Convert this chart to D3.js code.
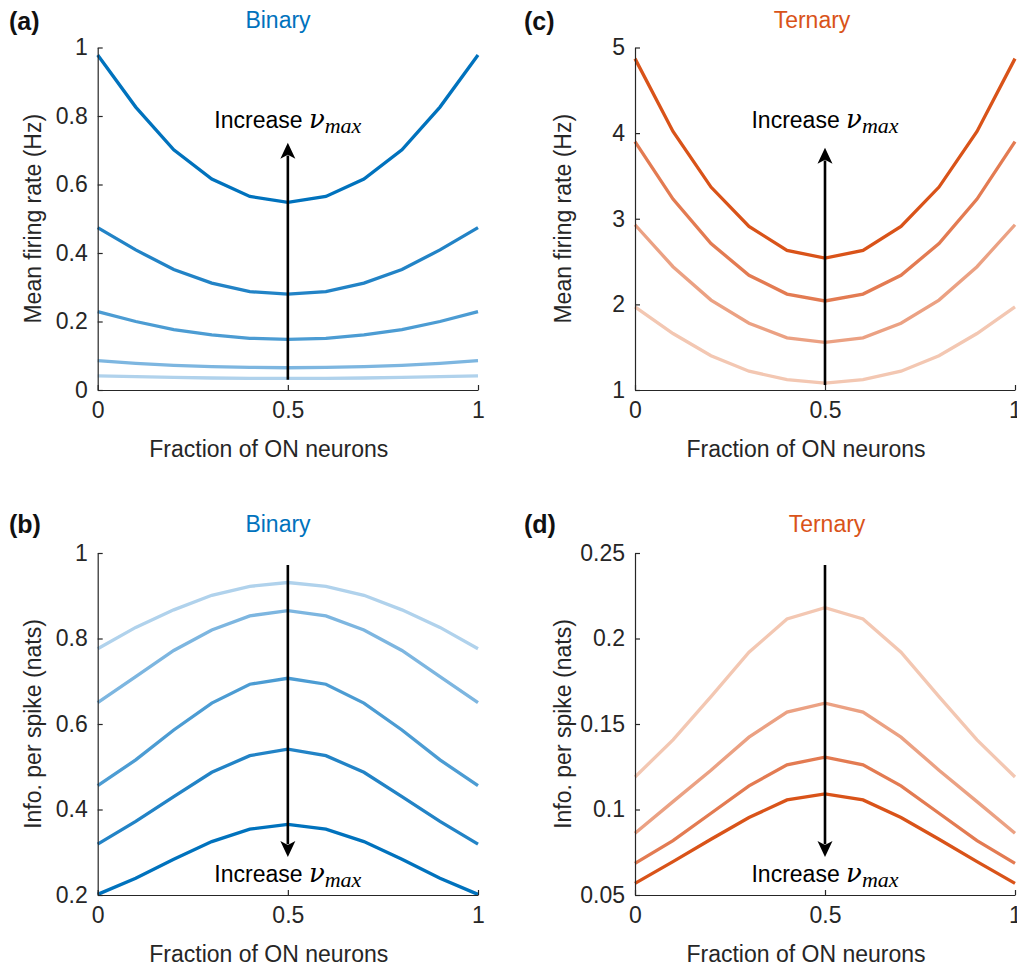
<!DOCTYPE html>
<html>
<head>
<meta charset="utf-8">
<script src="https://cdn.jsdelivr.net/npm/d3@7"></script>
<style>
  body { margin: 0; background: #fff; }
  text { font-family: "Liberation Sans", Arial, Helvetica, sans-serif; fill: #262626; }
</style>
</head>
<body>
<svg id="chart" width="1017" height="967"></svg>
<script>
// ---------- DATA ----------
const fractionOn = [0, 0.1, 0.2, 0.3, 0.4, 0.5, 0.6, 0.7, 0.8, 0.9, 1];

// (a) Binary mean firing rate (Hz), darkest (largest nu_max) first
const binaryRate1 = [0.978, 0.826, 0.701, 0.616, 0.565, 0.548, 0.565, 0.616, 0.701, 0.826, 0.978];
const binaryRate2 = [0.474, 0.409, 0.352, 0.312, 0.287, 0.280, 0.287, 0.312, 0.352, 0.409, 0.474];
const binaryRate3 = [0.229, 0.200, 0.176, 0.161, 0.151, 0.148, 0.151, 0.161, 0.176, 0.200, 0.229];
const binaryRate4 = [0.086, 0.078, 0.072, 0.068, 0.066, 0.065, 0.066, 0.068, 0.072, 0.078, 0.086];
const binaryRate5 = [0.041, 0.039, 0.037, 0.035, 0.034, 0.034, 0.034, 0.035, 0.037, 0.039, 0.041];

// (c) Ternary mean firing rate (Hz)
const ternaryRate1 = [4.87, 4.02, 3.37, 2.91, 2.63, 2.54, 2.63, 2.91, 3.37, 4.02, 4.87];
const ternaryRate2 = [3.90, 3.23, 2.71, 2.34, 2.12, 2.04, 2.12, 2.34, 2.71, 3.23, 3.90];
const ternaryRate3 = [2.93, 2.44, 2.05, 1.78, 1.61, 1.556, 1.61, 1.78, 2.05, 2.44, 2.93];
const ternaryRate4 = [1.97, 1.66, 1.40, 1.22, 1.12, 1.08, 1.12, 1.22, 1.40, 1.66, 1.97];

// (b) Binary info per spike (nats), darkest (largest nu_max) first
const binaryInfo1 = [0.2015, 0.239, 0.2835, 0.325, 0.354, 0.365, 0.354, 0.325, 0.2835, 0.239, 0.2015];
const binaryInfo2 = [0.319, 0.372, 0.430, 0.487, 0.526, 0.541, 0.526, 0.487, 0.430, 0.372, 0.319];
const binaryInfo3 = [0.456, 0.516, 0.586, 0.649, 0.693, 0.707, 0.693, 0.649, 0.586, 0.516, 0.456];
const binaryInfo4 = [0.650, 0.711, 0.772, 0.820, 0.853, 0.865, 0.853, 0.820, 0.772, 0.711, 0.650];
const binaryInfo5 = [0.776, 0.826, 0.867, 0.901, 0.922, 0.931, 0.922, 0.901, 0.867, 0.826, 0.776];

// (d) Ternary info per spike (nats)
const ternaryInfo1 = [0.0568, 0.0695, 0.0826, 0.0953, 0.1056, 0.1091, 0.1056, 0.0953, 0.0826, 0.0695, 0.0568];
const ternaryInfo2 = [0.0685, 0.0818, 0.0978, 0.1138, 0.1261, 0.1306, 0.1261, 0.1138, 0.0978, 0.0818, 0.0685];
const ternaryInfo3 = [0.0861, 0.1046, 0.1230, 0.1423, 0.1570, 0.1622, 0.1570, 0.1423, 0.1230, 0.1046, 0.0861];
const ternaryInfo4 = [0.119, 0.1407, 0.166, 0.192, 0.2114, 0.218, 0.2114, 0.192, 0.166, 0.1407, 0.119];

const xTicks = [0, 0.5, 1];
const rateBinaryTicks = [0, 0.2, 0.4, 0.6, 0.8, 1];
const rateTernaryTicks = [1, 2, 3, 4, 5];
const infoBinaryTicks = [0.2, 0.4, 0.6, 0.8, 1];
const infoTernaryTicks = [0.05, 0.1, 0.15, 0.2, 0.25];

const blueShades = ["#0072BD", "#2283C6", "#4C9CD3", "#7DB6E0", "#B0D2EC"];
const orangeShades = ["#D95319", "#E37B52", "#EBA183", "#F3C7B2"];

// ---------- LAYOUT ----------
const svg = d3.select("#chart");
const axisColor = "#262626";
const fontSize = 23;

const panels = [
  { label: "(a)", title: "Binary", titleColor: "#0072BD",
    ylabel: "Mean firing rate (Hz)",
    left: 97.7, right: 478, top: 47.5, bottom: 390,
    yDomain: [0, 1], yTicks: rateBinaryTicks,
    series: [binaryRate5, binaryRate4, binaryRate3, binaryRate2, binaryRate1],
    colors: [blueShades[4], blueShades[3], blueShades[2], blueShades[1], blueShades[0]],
    arrow: { from: 0.03, to: 0.722, text: 0.764, up: true },
    labelX: 9, labelY: 30, titleX: 278, titleY: 28, ylabelX: 41, xlabelY: 457 },
  { label: "(c)", title: "Ternary", titleColor: "#D95319",
    ylabel: "Mean firing rate (Hz)",
    left: 635, right: 1015, top: 47.5, bottom: 390,
    yDomain: [1, 5], yTicks: rateTernaryTicks,
    series: [ternaryRate4, ternaryRate3, ternaryRate2, ternaryRate1],
    colors: [orangeShades[3], orangeShades[2], orangeShades[1], orangeShades[0]],
    arrow: { from: 1.058, to: 3.83, text: 4.06, up: true },
    labelX: 524, labelY: 30, titleX: 812, titleY: 28, ylabelX: 571, xlabelY: 457 },
  { label: "(b)", title: "Binary", titleColor: "#0072BD",
    ylabel: "Info. per spike (nats)",
    left: 97.7, right: 478, top: 553, bottom: 895,
    yDomain: [0.2, 1], yTicks: infoBinaryTicks,
    series: [binaryInfo5, binaryInfo4, binaryInfo3, binaryInfo2, binaryInfo1],
    colors: [blueShades[4], blueShades[3], blueShades[2], blueShades[1], blueShades[0]],
    arrow: { from: 0.972, to: 0.289, text: 0.230, up: false },
    labelX: 9, labelY: 533, titleX: 278, titleY: 532, ylabelX: 41, xlabelY: 962 },
  { label: "(d)", title: "Ternary", titleColor: "#D95319",
    ylabel: "Info. per spike (nats)",
    left: 635, right: 1015, top: 553, bottom: 895,
    yDomain: [0.05, 0.25], yTicks: infoTernaryTicks,
    series: [ternaryInfo4, ternaryInfo3, ternaryInfo2, ternaryInfo1],
    colors: [orangeShades[3], orangeShades[2], orangeShades[1], orangeShades[0]],
    arrow: { from: 0.243, to: 0.0722, text: 0.0576, up: false },
    labelX: 524, labelY: 533, titleX: 827, titleY: 532, ylabelX: 571, xlabelY: 962 }
];

panels.forEach(p => {
  const g = svg.append("g");
  const x = d3.scaleLinear().domain([0, 1]).range([p.left, p.right]);
  const y = d3.scaleLinear().domain(p.yDomain).range([p.bottom, p.top]);

  // lines
  const line = d3.line().x((d, i) => x(fractionOn[i])).y(d => y(d));
  p.series.forEach((s, i) => {
    g.append("path").datum(s)
      .attr("d", line)
      .attr("fill", "none")
      .attr("stroke", p.colors[i])
      .attr("stroke-width", 3.3);
  });

  // axes
  const xAxis = d3.axisBottom(x).tickValues(xTicks).tickFormat(d3.format("")).tickSizeInner(-5).tickSizeOuter(0).tickPadding(12);
  const yAxis = d3.axisLeft(y).tickValues(p.yTicks).tickFormat(d3.format("")).tickSizeInner(-5).tickSizeOuter(0).tickPadding(10);

  const gx = g.append("g").attr("transform", `translate(0,${p.bottom})`).call(xAxis);
  const gy = g.append("g").attr("transform", `translate(${p.left},0)`).call(yAxis);
  [gx, gy].forEach(ax => {
    ax.select(".domain").attr("stroke", axisColor).attr("stroke-width", 1.2);
    ax.selectAll(".tick line").attr("stroke", axisColor).attr("stroke-width", 1.2);
    ax.selectAll(".tick text").attr("fill", axisColor).style("font-size", fontSize + "px")
      .style("font-family", '"Liberation Sans", Arial, sans-serif');
  });

  // labels
  g.append("text").attr("x", p.labelX).attr("y", p.labelY)
    .style("font-size", "25px").style("font-weight", "bold").style("fill", "#111").text(p.label);
  g.append("text").attr("x", p.titleX).attr("y", p.titleY).attr("text-anchor", "middle")
    .style("font-size", fontSize + "px").style("fill", p.titleColor).text(p.title);
  g.append("text").attr("x", (p.left + p.right) / 2 - 19).attr("y", p.xlabelY).attr("text-anchor", "middle")
    .style("font-size", fontSize + "px").text("Fraction of ON neurons");
  g.append("text")
    .attr("transform", `translate(${p.ylabelX},${(p.top + p.bottom) / 2}) rotate(-90)`)
    .attr("text-anchor", "middle")
    .style("font-size", fontSize + "px").text(p.ylabel);

  // arrow
  const ax0 = x(0.5);
  const yFrom = y(p.arrow.from), yTo = y(p.arrow.to);
  const dir = p.arrow.up ? 1 : -1; // head pointing up when dir=1
  const headLen = 16, headW = 7.5;
  g.append("line").attr("x1", ax0).attr("x2", ax0)
    .attr("y1", yFrom).attr("y2", yTo + dir * headLen * 0.8)
    .attr("stroke", "#000").attr("stroke-width", 2.6);
  g.append("path")
    .attr("d", `M${ax0},${yTo} L${ax0 - headW},${yTo + dir * headLen} L${ax0},${yTo + dir * headLen * 0.75} L${ax0 + headW},${yTo + dir * headLen} Z`)
    .attr("fill", "#000");

  const t = g.append("text").attr("x", ax0).attr("y", y(p.arrow.text)).attr("text-anchor", "middle")
    .style("font-size", fontSize + "px").style("fill", "#000");
  t.append("tspan").text("Increase ");
  t.append("tspan").style("font-family", '"DejaVu Serif", "Liberation Serif", serif')
    .style("font-style", "italic").style("font-size", "26px").style("fill", "#000").text("ν");
  t.append("tspan").style("font-family", '"Liberation Serif", "DejaVu Serif", serif')
    .style("font-style", "italic").style("font-size", "22px").attr("dy", 5).style("fill", "#000").text("max");
});
</script>
</body>
</html>
